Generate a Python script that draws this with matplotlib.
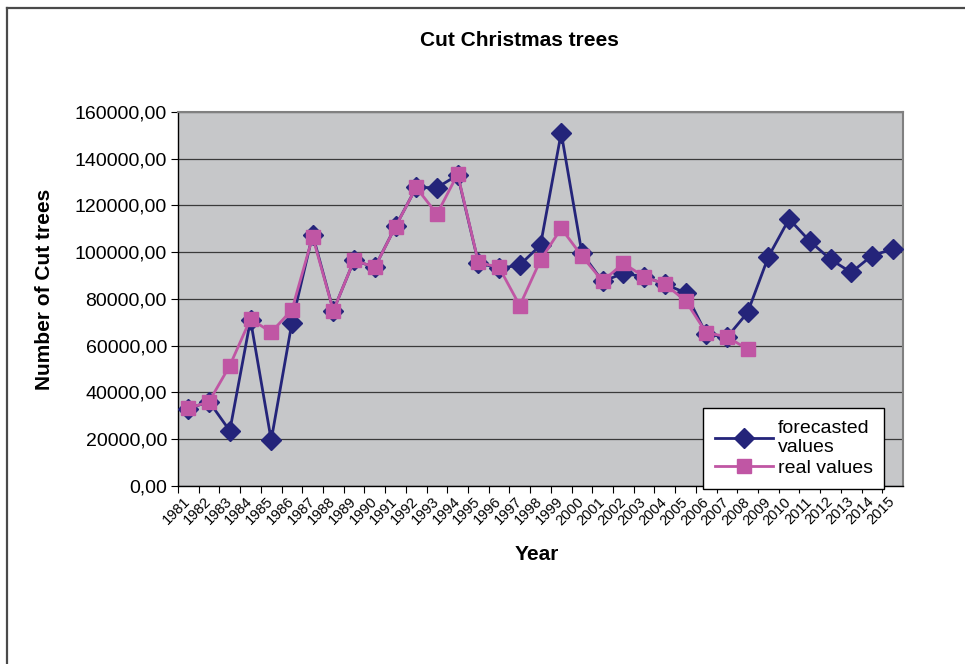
import numpy as np
import matplotlib
matplotlib.use('Agg')
import matplotlib.pyplot as plt
from matplotlib.lines import Line2D

plt.rcParams['font.family'] = ['Liberation Sans', 'DejaVu Sans']

# data
years = [str(y) for y in range(1981, 2016)]
forecasted = [33000, 36000, 23500, 71000, 19500, 69800, 107500, 75000, 96500, 93500,
              111000, 127700, 127600, 133000, 95500, 93000, 94500, 103000, 151100, 99500,
              87500, 90900, 89500, 86300, 82600, 65000, 63500, 74200, 98000, 114200,
              104700, 96900, 91300, 98500, 101300]
real = [33100, 36000, 51400, 71400, 65700, 75300, 106600, 74900, 96600, 93500,
        110900, 127700, 116300, 133400, 95600, 93500, 77100, 96600, 110200, 98300,
        87600, 95200, 89500, 86300, 79200, 65500, 63800, 58400]
y_ticks = list(range(0, 160001, 20000))

navy = '#24247A'
pink = '#C056A4'

fig = plt.figure(figsize=(9.65, 6.64), dpi=100)
ax = fig.add_axes([178/965, 1 - 485.7/664, 725/965, 373.7/664])
ax.set_facecolor('#C6C7C9')

x_f = np.arange(len(forecasted))
x_r = np.arange(len(real))
ax.plot(x_f, forecasted, color=navy, lw=2.0, marker='D', ms=10, zorder=3,
        label='forecasted\nvalues')
ax.plot(x_r, real, color=pink, lw=2.0, marker='s', ms=10.5, zorder=4,
        label='real values')

ax.set_xlim(-0.5, len(years) - 0.5)
ax.set_ylim(0, 160000)
ax.set_yticks(y_ticks)
ax.set_yticklabels(['{:.2f}'.format(v).replace('.', ',') for v in y_ticks], fontsize=14)
ax.yaxis.grid(True, color='#3a3a3a', lw=0.9)
ax.set_axisbelow(True)

ax.set_xticks(np.arange(len(years)) - 0.5, minor=False)
ax.set_xticklabels([])
ax.set_xticks(np.arange(len(years)), minor=True)
ax.set_xticklabels(years, minor=True, rotation=45, ha='right', va='center',
                   rotation_mode='anchor', fontsize=10.5)
ax.tick_params(axis='x', which='minor', length=0, pad=10)
ax.tick_params(axis='x', which='major', length=5, direction='out', color='black')
ax.tick_params(axis='y', length=5, direction='out', color='black', pad=3)

for side in ['top', 'right']:
    ax.spines[side].set_color('#808080')
    ax.spines[side].set_linewidth(1.5)
for side in ['left', 'bottom']:
    ax.spines[side].set_color('black')
    ax.spines[side].set_linewidth(1.0)

leg = ax.legend(loc='lower left', bbox_to_anchor=(0.724, -0.008), fontsize=14,
                fancybox=False, framealpha=1, edgecolor='black', handlelength=3.0,
                handletextpad=0.25, borderpad=0.6, labelspacing=0.15, borderaxespad=0)
leg.get_frame().set_linewidth(1.0)
leg.set_zorder(5)

fig.text(519/965, 1 - 40/664, 'Cut Christmas trees', ha='center', va='center',
         fontsize=15, fontweight='bold')
fig.text(45/965, 1 - 289/664, 'Number of Cut trees', ha='center', va='center',
         rotation=90, fontsize=15, fontweight='bold')
fig.text(537/965, 1 - 555/664, 'Year', ha='center', va='center',
         fontsize=15, fontweight='bold')

# outer chart border
fig.add_artist(Line2D([6.5/965, 6.5/965], [0, 1 - 7.5/664], color='#4a4a4a', lw=1.6))
fig.add_artist(Line2D([6.5/965, 1], [1 - 7.5/664, 1 - 7.5/664], color='#4a4a4a', lw=1.6))

fig.savefig('out.png', dpi=100)
